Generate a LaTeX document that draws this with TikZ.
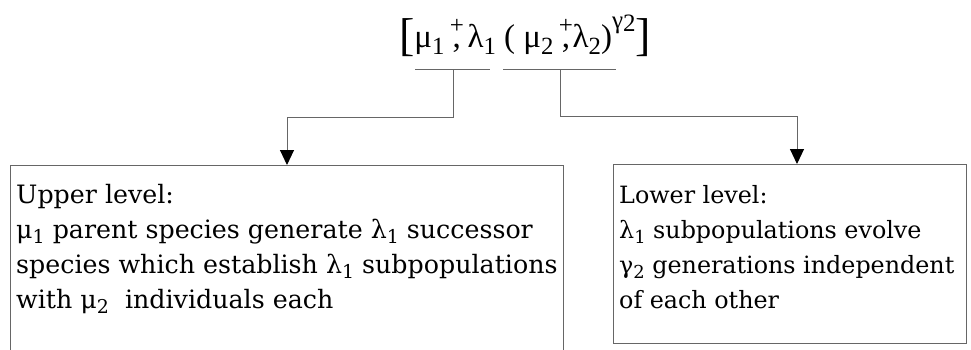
\documentclass[tikz,border=0pt]{standalone}
\usepackage{fontspec}
\setmainfont{DejaVu Serif}
\newfontfamily\formfont{Liberation Serif}
\usetikzlibrary{arrows.meta}
\newcommand\plc{\ooalign{,\cr\hidewidth\raisebox{0.4em}{\fontsize{25}{25}\selectfont+}\hidewidth\cr}}
\newcommand\sbx[1]{\raisebox{-0.22em}{\fontsize{0.75\dimexpr\fontdimen6\font\relax}{10}\selectfont #1}}
\begin{document}
\begin{tikzpicture}[x=1pt,y=-1pt,
  line/.style={draw=black!60, line width=1pt},
  conn/.style={line, -{Triangle[length=15pt,width=14pt,color=black]}},
  box/.style={draw=black!60, line width=1pt, inner sep=0pt},
  boxtext/.style={anchor=north west, inner sep=0pt, align=left, font=\fontsize{25.3}{35}\selectfont}]
\useasboundingbox (0,0) rectangle (971,349);
\node[anchor=base, inner sep=0pt] (formula) at (525,47)
  {\formfont\fontsize{33}{33}\selectfont\raisebox{-0.12em}{\fontsize{46}{46}\selectfont[}μ\sbx{1}\hspace{0.25em}\plc\hspace{0.2em}λ\sbx{1} ( μ\sbx{2}\hspace{0.25em}\plc\hspace{0.08em}λ\sbx{2})\raisebox{0.55em}{\fontsize{25}{25}\selectfont γ\raisebox{-0.12em}{2}}\raisebox{-0.12em}{\fontsize{46}{46}\selectfont]}};
% underline bars
\coordinate (b1l) at (415,69); \coordinate (b1r) at (490,69); \coordinate (b1m) at (453,69);
\coordinate (b2l) at (503,69); \coordinate (b2r) at (616,69); \coordinate (b2m) at (560,69);
\draw[line] (b1l) -- (b1r);
\draw[line] (b2l) -- (b2r);
% boxes
\node[box, anchor=north west, minimum width=553pt, minimum height=200pt] (upper) at (10,165) {};
\node[box, anchor=north west, minimum width=353pt, minimum height=179pt] (lower) at (613,164) {};
\node[boxtext] (uppertext) at (16,184) {Upper level:\\
μ\sbx{1} parent species generate λ\sbx{1} successor\\
species which establish λ\sbx{1} subpopulations\\
with μ\sbx{2}\ \ individuals each};
\node[boxtext, font=\fontsize{23.8}{35}\selectfont] (lowertext) at (619,185) {Lower level:\\
λ\sbx{1} subpopulations evolve\\
γ\sbx{2} generations independent\\
of each other};
% connectors
\draw[conn] (b1m) -- (453,117) -| (upper.north -| 287,0);
\draw[conn] (b2m) -- (560,116) -| (lower.north -| 797,0);
\end{tikzpicture}
\end{document}
